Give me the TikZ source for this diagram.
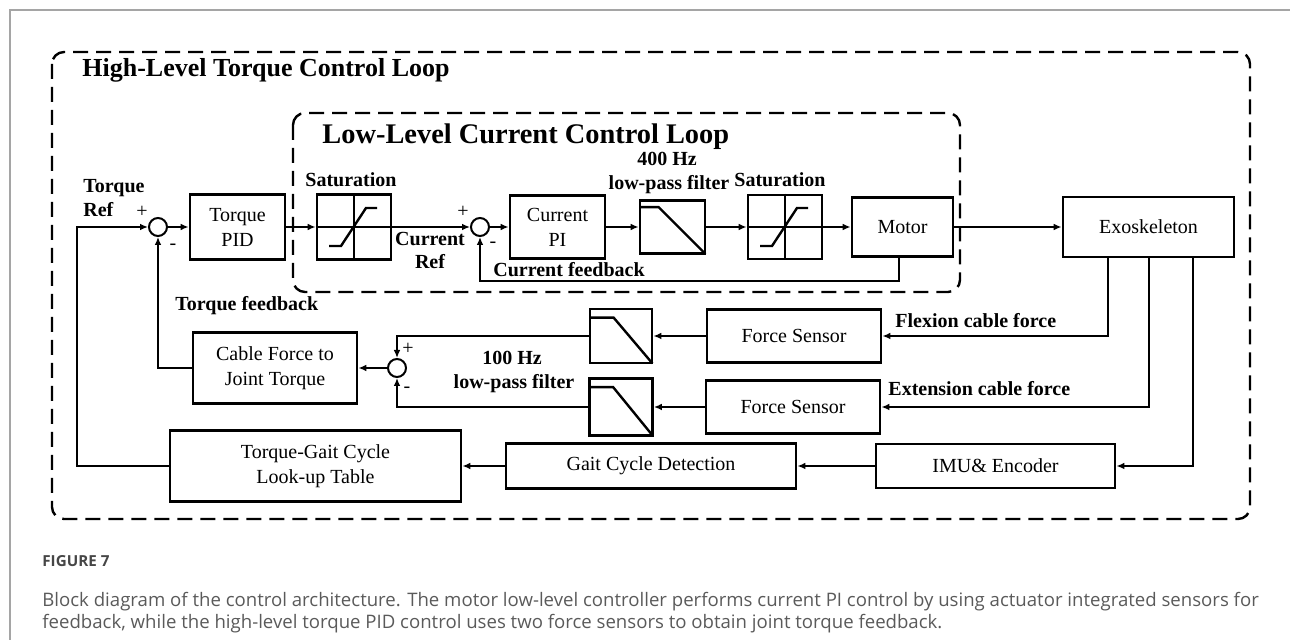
\documentclass[tikz,border=0pt]{standalone}
\usepackage{fontspec}
\setmainfont{Liberation Serif}
\newfontfamily\capfont{Open Sans}
\usetikzlibrary{arrows.meta,calc}
\definecolor{capgray}{RGB}{90,90,90}
\definecolor{capdark}{RGB}{70,70,70}
\definecolor{framegray}{RGB}{165,165,165}
\begin{document}
\begin{tikzpicture}[x=0.5pt,y=-0.5pt,
  block/.style={draw,line width=1.4pt,inner sep=0pt,align=center,font=\fontsize{10pt}{12.5pt}\selectfont},
  lbl/.style={font=\bfseries\fontsize{10pt}{12.5pt}\selectfont,inner sep=0pt},
  sgn/.style={font=\fontsize{10pt}{12pt}\selectfont,inner sep=0pt},
  sumc/.style={draw,circle,line width=1pt,minimum size=9pt,inner sep=0pt},
  conn/.style={line width=1pt},
  arr/.style={line width=1pt,-{Latex[length=4pt,width=3.4pt]}},
  loopbox/.style={draw,line width=1.2pt,dash pattern=on 7.5pt off 4pt,rounded corners=6pt},
  icon/.style={line width=1.2pt},
  capt/.style={font=\capfont\fontsize{9.3pt}{11pt}\selectfont,text=capgray,inner sep=0pt,anchor=base west}]
\useasboundingbox (0,0) rectangle (1290,640);
% page frame
\draw[framegray,line width=0.6pt] (10,640) -- (10,10) -- (1290,10);
% loops
\draw[loopbox] (52,52) rectangle (1250,519);
\draw[loopbox] (293,113) rectangle (960,292);
\node[anchor=base west,inner sep=0pt,font=\bfseries\fontsize{13pt}{15pt}\selectfont] (thigh) at (82,77) {High-Level Torque Control Loop};
\node[anchor=base west,inner sep=0pt,font=\bfseries\fontsize{14.2pt}{16pt}\selectfont] (tlow) at (322,144) {Low-Level Current Control Loop};
% main row
\node[sumc] (sum1) at (158,227) {};
\node[block,minimum width=47.5pt,minimum height=32.5pt] (pid) at (237.5,227) {Torque\\PID};
\node[block,minimum width=37pt,minimum height=32.5pt] (sat1) at (354,227) {};
\node[sumc] (sum2) at (480,227) {};
\node[block,minimum width=47.5pt,minimum height=31.5pt] (pi) at (557.5,227) {Current\\PI};
\node[block,minimum width=32.5pt,minimum height=26.5pt] (lpf1) at (672.5,227) {};
\node[block,minimum width=37pt,minimum height=32pt] (sat2) at (785,227) {};
\node[block,minimum width=50.5pt,minimum height=29.5pt] (motor) at (902.5,227) {Motor};
\node[block,minimum width=85.5pt,minimum height=30pt] (exo) at (1148.5,227) {Exoskeleton};
% feedback rows
\node[block,minimum width=87pt,minimum height=26.5pt] (fs1) at (794,336) {Force Sensor};
\node[block,minimum width=87pt,minimum height=26.5pt] (fs2) at (793,407) {Force Sensor};
\node[block,minimum width=31pt,minimum height=27pt] (filt1) at (621,336) {};
\node[block,minimum width=31.5pt,minimum height=28.5pt] (filt2) at (621,407) {};
\node[sumc] (sum3) at (397,368) {};
\node[block,minimum width=82pt,minimum height=35.5pt] (cable) at (275,368) {Cable Force to\\Joint Torque};
\node[block,minimum width=145.5pt,minimum height=35.5pt] (lookup) at (315.5,466) {Torque-Gait Cycle\\Look-up Table};
\node[block,minimum width=145pt,minimum height=22.5pt] (gait) at (651,466) {Gait Cycle Detection};
\node[block,minimum width=119.5pt,minimum height=22pt] (imu) at (995.5,466) {IMU\& Encoder};
% icons: saturation
\foreach \s in {sat1,sat2}{
  \draw[icon] (\s.north) -- (\s.south);
  \draw[icon] (\s.west) -- (\s.east);
  \draw[icon] ($(\s.center)+(-25,19)$) -- ($(\s.center)+(-13,19)$) -- ($(\s.center)+(12,-19)$) -- ($(\s.center)+(23,-19)$);
}
% icons: low-pass
\draw[icon] ($(lpf1.north west)+(2,8)$) -- ($(lpf1.north west)+(20,8)$) -- ($(lpf1.south east)+(-1,-1)$);
\draw[icon] ($(filt1.north west)+(2,10)$) -- ($(filt1.north west)+(25,10)$) -- ($(filt1.south east)+(-1,-1)$);
\draw[icon] ($(filt2.north west)+(2,10)$) -- ($(filt2.north west)+(25,10)$) -- ($(filt2.south east)+(-1,-1)$);
% coordinates
\coordinate (cin) at (77,227);
\coordinate (cfb) at (480,281);
% connectors main row
\draw[arr] (lookup.west) -| (cin) -- (sum1.west);
\draw[arr] (sum1.east) -- (pid.west);
\draw[arr] (pid.east) -- (sat1.west);
\draw[arr] (sat1.east) -- (sum2.west);
\draw[arr] (sum2.east) -- (pi.west);
\draw[arr] (pi.east) -- (lpf1.west);
\draw[arr] (lpf1.east) -- (sat2.west);
\draw[arr] (sat2.east) -- (motor.west);
\draw[arr] (motor.east) -- (exo.west);
\draw[arr] ($(motor.south)+(-4,0)$) |- (cfb) -- (sum2.south);
% feedback connectors
\draw[arr] ($(exo.south west)+(46,0)$) |- (fs1.east);
\draw[arr] (exo.south) |- (fs2.east);
\draw[arr] ($(exo.south west)+(131,0)$) |- (imu.east);
\draw[arr] (fs1.west) -- (filt1.east);
\draw[arr] (fs2.west) -- (filt2.east);
\draw[arr] (filt1.west) -| (sum3.north);
\draw[arr] (filt2.west) -| (sum3.south);
\draw[arr] (sum3.west) -- (cable.east);
\draw[arr] (cable.west) -| (sum1.south);
\draw[arr] (imu.west) -- (gait.east);
\draw[arr] (gait.west) -- (lookup.east);
% labels
\node[lbl,anchor=base west,align=left] (ltref) at (83,193) {Torque};
\node[lbl,anchor=base west] (ltref2) at (83,217) {Ref};
\node[sgn] (p1) at (142,212) {+};
\node[sgn] (m1) at (173,247) {-};
\node[lbl,anchor=base] (lsat1) at (351,187) {Saturation};
\node[lbl,anchor=base] (lcr1) at (430,246) {Current};
\node[lbl,anchor=base] (lcr2) at (430,269) {Ref};
\node[sgn] (p2) at (463,212) {+};
\node[sgn] (m2) at (493,245) {-};
\node[lbl,anchor=base west] (lcfb) at (493,277) {Current feedback};
\node[lbl,anchor=base] (l400a) at (667,166) {400 Hz};
\node[lbl,anchor=base] (l400b) at (669,190) {low-pass filter};
\node[lbl,anchor=base] (lsat2) at (780,187) {Saturation};
\node[lbl,anchor=base west] (ltfb) at (175,311) {Torque feedback};
\node[sgn] (p3) at (408,349) {+};
\node[sgn] (m3) at (407,390) {-};
\node[lbl,anchor=base] (l100a) at (512,365) {100 Hz};
\node[lbl,anchor=base] (l100b) at (514,389) {low-pass filter};
\node[lbl,anchor=base west] (lflex) at (895,328) {Flexion cable force};
\node[lbl,anchor=base west] (lext) at (888,396) {Extension cable force};
% caption
\node[capt,text=capdark,font=\capfont\bfseries\fontsize{7.6pt}{9pt}\selectfont] (cap0) at (42,567) {FIGURE 7};
\node[capt] (cap1) at (42,606) {Block diagram of the control architecture. The motor low-level controller performs current PI control by using actuator integrated sensors for};
\node[capt] (cap2) at (42,628) {feedback, while the high-level torque PID control uses two force sensors to obtain joint torque feedback.};
\end{tikzpicture}
\end{document}
